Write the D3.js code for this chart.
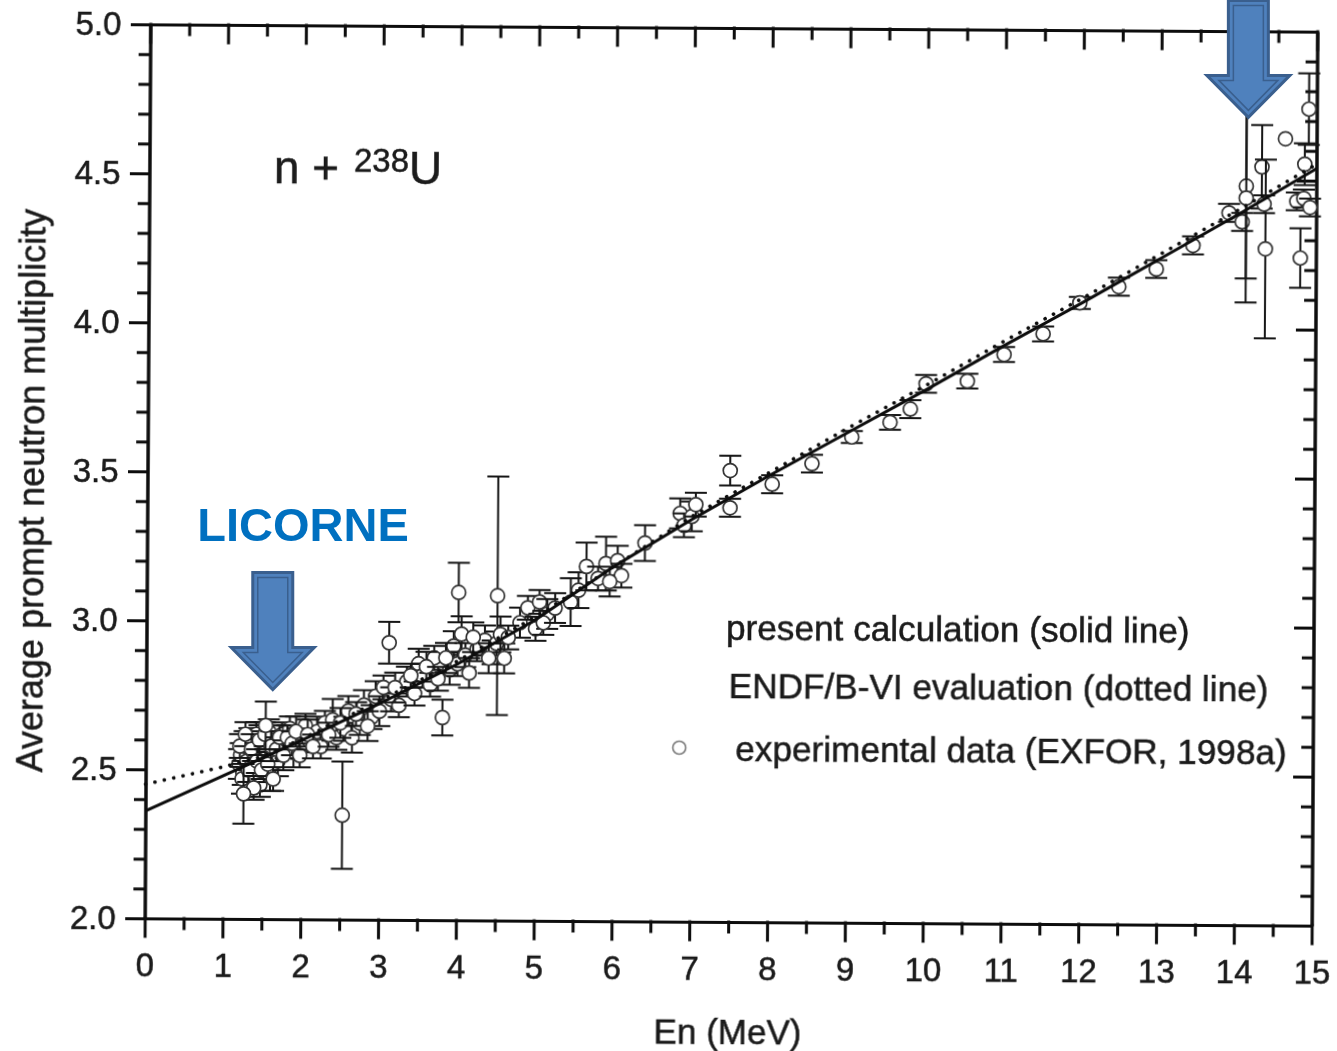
<!DOCTYPE html>
<html>
<head>
<meta charset="utf-8">
<script src="https://cdn.jsdelivr.net/npm/d3@7"></script>
<style>
  html, body { margin: 0; padding: 0; background: #fff; }
  svg { display: block; font-family: "Liberation Sans", Arial, sans-serif; }
  .axis path, .axis line { stroke: #111; stroke-width: 3; }
  .axis text { fill: #1a1a1a; font-size: 33px; font-family: "Liberation Sans", Arial, sans-serif;
               stroke: #1a1a1a; stroke-width: 0.5px; }
  .label { fill: #1a1a1a; stroke: #1a1a1a; stroke-width: 0.5px; }
</style>
</head>
<body>
<div id="chart"></div>
<script>
// experimental data (EXFOR): neutron energy (MeV), nu-bar, symmetric error
const expEnergy = [
  1.20, 1.22, 1.25, 1.27, 1.30, 1.30, 1.33, 1.35, 1.38, 1.40, 1.42, 1.45, 1.47, 1.50, 1.52,
  1.55, 1.58, 1.60, 1.62, 1.65, 1.70, 1.75, 1.80, 1.85, 1.90, 1.95, 2.00, 2.05, 2.10, 2.20,
  2.25, 2.30, 2.40, 2.45, 2.55, 2.60, 2.65, 2.75, 2.80, 2.90, 2.95, 3.00, 3.05, 3.15,
  1.21, 1.24, 1.28, 1.32, 1.36, 1.39, 1.43, 1.46, 1.49, 1.53, 1.57, 1.61, 1.64, 1.68, 1.72,
  1.77, 1.82, 1.88, 1.93, 1.98, 2.08, 2.15, 2.35, 2.50, 2.70, 2.85,
  1.26, 1.54, 2.53, 3.12, 3.81, 4.01, 4.51,
  3.25, 3.35, 3.45, 3.50, 3.55, 3.65, 3.70, 3.90, 3.95, 4.00, 4.05, 4.10, 4.15, 4.25, 4.35,
  4.45, 4.50, 4.55, 4.60, 4.80, 4.90, 5.00, 5.05, 5.15, 5.45, 5.55, 5.65, 5.80, 5.90, 6.05,
  6.10, 6.40, 6.85, 6.90, 7.00, 7.05,
  3.20, 3.40, 3.60, 3.75, 3.85, 4.20, 4.40, 4.65, 5.10, 5.25, 5.95,
  7.49, 7.49, 8.03, 8.54, 9.05, 9.54, 9.80, 10.00, 10.53, 11.00, 11.50, 11.97, 12.47, 12.95,
  13.42, 13.88, 14.05, 14.10, 14.10, 14.30, 14.35, 14.33, 14.60, 14.75, 14.80, 14.84, 14.90,
  14.85, 14.92
];
const expNu = [
  2.52, 2.55, 2.49, 2.58, 2.53, 2.46, 2.60, 2.51, 2.56, 2.48, 2.62, 2.54, 2.45, 2.59, 2.51,
  2.57, 2.63, 2.48, 2.55, 2.60, 2.53, 2.62, 2.58, 2.64, 2.56, 2.61, 2.58, 2.65, 2.60, 2.63,
  2.58, 2.66, 2.67, 2.61, 2.64, 2.70, 2.61, 2.66, 2.72, 2.68, 2.75, 2.70, 2.78, 2.74,
  2.58, 2.47, 2.62, 2.50, 2.57, 2.44, 2.53, 2.60, 2.50, 2.62, 2.52, 2.58, 2.47, 2.57, 2.61,
  2.55, 2.61, 2.59, 2.63, 2.55, 2.62, 2.58, 2.62, 2.66, 2.69, 2.65,
  2.42, 2.65, 2.35, 2.93, 2.68, 3.10, 3.09,
  2.72, 2.80, 2.76, 2.86, 2.82, 2.79, 2.88, 2.84, 2.92, 2.86, 2.96, 2.89, 2.83, 2.91, 2.94,
  2.90, 2.93, 2.96, 2.88, 3.00, 3.05, 2.98, 3.07, 3.03, 3.07, 3.11, 3.19, 3.15, 3.20, 3.21,
  3.16, 3.27, 3.37, 3.33, 3.36, 3.40,
  2.78, 2.82, 2.85, 2.81, 2.88, 2.95, 2.88, 2.95, 3.00, 3.05, 3.14,
  3.515, 3.39, 3.47, 3.54, 3.63, 3.68, 3.725, 3.81, 3.82, 3.91, 3.98, 4.085, 4.14, 4.20,
  4.28, 4.39, 4.36, 4.48, 4.44, 4.545, 4.27, 4.42, 4.64, 4.43, 4.24, 4.44, 4.74,
  4.555, 4.41
];
const expErr = [
  0.05, 0.04, 0.04, 0.05, 0.03, 0.04, 0.04, 0.05, 0.03, 0.04, 0.04, 0.03, 0.04, 0.04, 0.05,
  0.03, 0.04, 0.05, 0.04, 0.03, 0.05, 0.04, 0.04, 0.04, 0.05, 0.03, 0.04, 0.04, 0.04, 0.05,
  0.04, 0.04, 0.07, 0.04, 0.04, 0.05, 0.05, 0.04, 0.05, 0.04, 0.05, 0.05, 0.04, 0.04,
  0.04, 0.05, 0.04, 0.04, 0.05, 0.04, 0.04, 0.05, 0.03, 0.04, 0.04, 0.05, 0.04, 0.04, 0.04,
  0.05, 0.04, 0.04, 0.05, 0.04, 0.05, 0.04, 0.04, 0.05, 0.04, 0.05,
  0.10, 0.08, 0.18, 0.07, 0.06, 0.10, 0.40,
  0.04, 0.05, 0.04, 0.05, 0.04, 0.04, 0.04, 0.05, 0.05, 0.04, 0.06, 0.04, 0.05, 0.04, 0.05,
  0.04, 0.04, 0.06, 0.05, 0.05, 0.04, 0.04, 0.04, 0.05, 0.08, 0.06, 0.08, 0.04, 0.09, 0.05,
  0.04, 0.06, 0.05, 0.04, 0.05, 0.04,
  0.05, 0.04, 0.05, 0.04, 0.05, 0.05, 0.05, 0.04, 0.04, 0.05, 0.05,
  0.05, 0.03, 0.03, 0.03, 0.02, 0.025, 0.03, 0.03, 0.025, 0.025, 0.025, 0.02, 0.03, 0.03,
  0.03, 0.03, 0.03, 0.31, 0.35, 0.14, 0.30, 0.03, 0, 0.03, 0.10, 0.03, 0.12,
  0.07, 0.03
];

// present calculation (solid line)
const calcEnergy = [0, 1, 2, 3, 4, 5, 6, 7, 8, 9, 10, 11, 12, 13, 14, 15];
const calcNu = [2.36, 2.48, 2.60, 2.725, 2.86, 3.01, 3.19, 3.35, 3.50, 3.645, 3.79, 3.94, 4.085, 4.235, 4.385, 4.54];

// ENDF/B-VI evaluation (dotted line)
const endfEnergy = [0, 1, 1.5, 2, 3, 4, 5, 6, 7, 8, 9, 10, 11, 12, 13, 14, 15];
const endfNu = [2.45, 2.51, 2.545, 2.605, 2.735, 2.87, 3.02, 3.19, 3.36, 3.51, 3.66, 3.805, 3.955, 4.10, 4.25, 4.40, 4.555];

// axis ticks
const xMajor = d3.range(0, 16);
const xMinor = d3.range(0.5, 15, 1);
const yMajor = [2.0, 2.5, 3.0, 3.5, 4.0, 4.5, 5.0];
const yMinor = d3.range(21, 50).filter(v => v % 5 !== 0).map(v => v / 10);

const legendLabels = [
  "present calculation (solid line)",
  "ENDF/B-VI evaluation (dotted line)",
  "experimental data (EXFOR, 1998a)"
];

// LICORNE annotation (arrow tips in data units)
const arrowEnergy = [1.61, 14.15];
const arrowNu = [2.78, 4.70];
const noteText = ["LICORNE"];
const noteEnergy = [2.0];
const noteNu = [3.28];

const width = 1337, height = 1051;
const L = 147.5, R = 1314.5, T = 28, B = 922;

const svg = d3.select("#chart").append("svg")
  .attr("width", width)
  .attr("height", height);

const defs = svg.append("defs");
defs.append("filter").attr("id", "scan")
  .append("feGaussianBlur").attr("stdDeviation", 0.45);

const x = d3.scaleLinear().domain([0, 15]).range([L, R]);
const y = d3.scaleLinear().domain([2, 5]).range([B, T]);

// the scanned figure is tilted a little
const fig = svg.append("g")
  .attr("transform", "rotate(0.36, 731, 475)")
  .attr("filter", "url(#scan)");

//axes: ticks out on bottom/left, in on top/right
fig.append("g").attr("class", "axis")
  .attr("transform", `translate(0,${B})`)
  .call(d3.axisBottom(x).tickValues(xMajor).tickSize(18).tickSizeOuter(0).tickPadding(17).tickFormat(d3.format("d")));
fig.append("g").attr("class", "axis")
  .attr("transform", `translate(0,${B})`)
  .call(d3.axisBottom(x).tickValues(xMinor).tickSize(10).tickSizeOuter(0).tickFormat(""));
fig.append("g").attr("class", "axis")
  .attr("transform", `translate(0,${T})`)
  .call(d3.axisTop(x).tickValues(xMajor).tickSize(-18).tickSizeOuter(0).tickFormat(""));
fig.append("g").attr("class", "axis")
  .attr("transform", `translate(0,${T})`)
  .call(d3.axisTop(x).tickValues(xMinor).tickSize(-10).tickSizeOuter(0).tickFormat(""));
fig.append("g").attr("class", "axis")
  .attr("transform", `translate(${L},0)`)
  .call(d3.axisLeft(y).tickValues(yMajor).tickSize(18).tickSizeOuter(0).tickPadding(11).tickFormat(d3.format(".1f")));
fig.append("g").attr("class", "axis")
  .attr("transform", `translate(${L},0)`)
  .call(d3.axisLeft(y).tickValues(yMinor).tickSize(10).tickSizeOuter(0).tickFormat(""));
fig.append("g").attr("class", "axis")
  .attr("transform", `translate(${R},0)`)
  .call(d3.axisRight(y).tickValues(yMajor).tickSize(-18).tickSizeOuter(0).tickFormat(""));
fig.append("g").attr("class", "axis")
  .attr("transform", `translate(${R},0)`)
  .call(d3.axisRight(y).tickValues(yMinor).tickSize(-10).tickSizeOuter(0).tickFormat(""));
fig.selectAll(".axis line").attr("stroke-linecap", "square");

// axis titles
fig.append("text").attr("class", "label")
  .attr("x", 731).attr("y", 1044)
  .attr("text-anchor", "middle")
  .style("font-size", "35px")
  .text("En (MeV)");
fig.append("text").attr("class", "label")
  .attr("transform", "translate(44,495) rotate(-90)")
  .attr("text-anchor", "middle")
  .style("font-size", "36px")
  .text("Average prompt neutron multiplicity");

// title n + 238U
let title = fig.append("text").attr("class", "label")
  .attr("x", 272).attr("y", 186)
  .style("font-size", "46px");
title.append("tspan").text("n + ");
title.append("tspan").attr("dx", 2).attr("dy", -12).style("font-size", "33px").text("238");
title.append("tspan").attr("dy", 12).text("U");

// experimental points with error bars
const pts = expEnergy.map((e, i) => ({e: e, v: expNu[i], s: expErr[i]}));
const pg = fig.append("g").selectAll("g").data(pts).enter().append("g");
pg.filter(d => d.s > 0).append("path")
  .attr("d", d => {
    let px = x(d.e), lo = y(d.v - d.s), hi = y(d.v + d.s);
    return `M${px},${lo}V${hi}M${px - 11},${hi}H${px + 11}M${px - 11},${lo}H${px + 11}`;
  })
  .attr("fill", "none")
  .attr("stroke", "#151515")
  .attr("stroke-width", 2);
pg.append("circle")
  .attr("cx", d => x(d.e))
  .attr("cy", d => y(d.v))
  .attr("r", 7)
  .attr("fill", "#fff")
  .attr("stroke", "#333")
  .attr("stroke-width", 1.7);

// ENDF/B-VI dotted and present calculation solid
const line = d3.line().x(d => x(d[0])).y(d => y(d[1]));
fig.append("path")
  .datum(endfEnergy.map((e, i) => [e, endfNu[i]]))
  .attr("d", line)
  .attr("fill", "none")
  .attr("stroke", "#111")
  .attr("stroke-width", 3.6)
  .attr("stroke-linecap", "round")
  .attr("stroke-dasharray", "0.1 9.5");
fig.append("path")
  .datum(calcEnergy.map((e, i) => [e, calcNu[i]]))
  .attr("d", line)
  .attr("fill", "none")
  .attr("stroke", "#0d0d0d")
  .attr("stroke-width", 3);

// legend
const legendY = [640, 698, 761];
const legendX = [727, 730, 737];
fig.selectAll(".legend").data(legendLabels).enter().append("text")
  .attr("class", "label legend")
  .attr("x", (d, i) => legendX[i])
  .attr("y", (d, i) => legendY[i])
  .style("font-size", "35.2px")
  .text(d => d);
fig.append("circle")
  .attr("cx", 681).attr("cy", 748).attr("r", 6.5)
  .attr("fill", "#fff").attr("stroke", "#7a7a7a").attr("stroke-width", 1.6);

// LICORNE annotations (added on top of the scan)
function arrowPath(cx, tip, d) {
  let H = 117, sw = 20, hw = 41.5, hh = 42;
  let k = 1 + Math.SQRT2;
  let pts = [
    [cx - sw + d, tip - H + d], [cx + sw - d, tip - H + d], [cx + sw - d, tip - hh + d],
    [cx + hw - k * d, tip - hh + d], [cx, tip - Math.SQRT2 * d],
    [cx - hw + k * d, tip - hh + d], [cx - sw + d, tip - hh + d]
  ];
  return "M" + pts.map(p => p.join(",")).join("L") + "Z";
}
const notes = svg.append("g");
arrowEnergy.forEach((e, i) => {
  let cx = x(e), tip = y(arrowNu[i]);
  notes.append("path").attr("d", arrowPath(cx, tip, 0))
    .attr("fill", "#4f81bd").attr("stroke", "#3a5f8e").attr("stroke-width", 3)
    .attr("stroke-linejoin", "miter");
  notes.append("path").attr("d", arrowPath(cx, tip, 5))
    .attr("fill", "none").attr("stroke", "#3a5f8e").attr("stroke-width", 1.5);
});
notes.selectAll(".note").data(noteText).enter().append("text")
  .attr("x", (d, i) => x(noteEnergy[i]))
  .attr("y", (d, i) => y(noteNu[i]))
  .attr("text-anchor", "middle")
  .style("font-size", "47px")
  .style("font-weight", "bold")
  .attr("fill", "#0070c0")
  .text(d => d);
</script>
</body>
</html>
